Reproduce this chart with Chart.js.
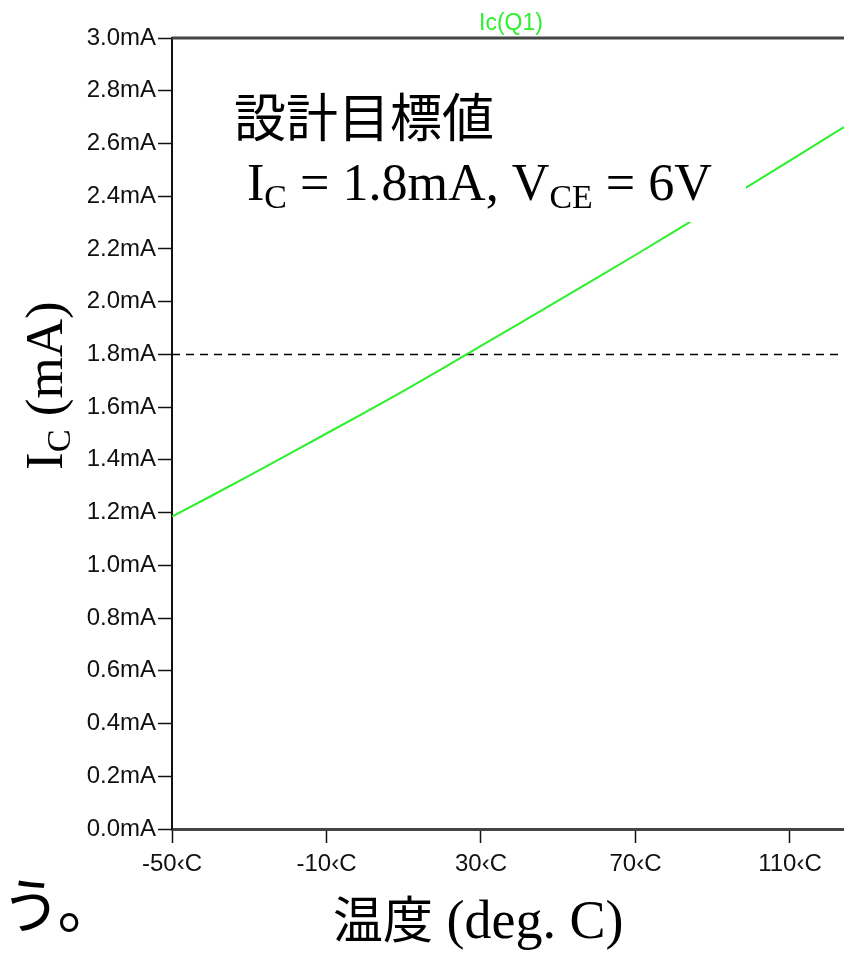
<!DOCTYPE html>
<html>
<head>
<meta charset="utf-8">
<script src="https://cdn.jsdelivr.net/npm/chart.js@4.4.1/dist/chart.umd.min.js"></script>
<style>
  html, body { margin: 0; padding: 0; background: #fff; }
  #wrap { width: 844px; height: 953px; position: relative; overflow: hidden; }
</style>
</head>
<body>
<div id="wrap"><canvas id="icChart" width="844" height="953"></canvas></div>
<script>
// Dados (temperatura em graus C, corrente em mA)
const temps = [-50, -40, -30, -20, -10, 0, 10, 20, 30, 40, 50, 60, 70, 80, 90, 100, 110, 120, 124];
const icValues = [1.185, 1.262, 1.340, 1.420, 1.500, 1.580, 1.662, 1.746, 1.832, 1.918, 2.004, 2.090, 2.177, 2.266, 2.355, 2.445, 2.535, 2.626, 2.662];
const xTicks = [-50, -10, 30, 70, 110];
const yTicks = [0, 0.2, 0.4, 0.6, 0.8, 1.0, 1.2, 1.4, 1.6, 1.8, 2.0, 2.2, 2.4, 2.6, 2.8, 3.0];
const targetIc = 1.8;
const xRange = [-50, 124];

const serif = '"Liberation Serif", "Times New Roman", serif';
const cjk = '"Noto Sans CJK JP", "Noto Sans", sans-serif';
const sans = '"Liberation Sans", Arial, sans-serif';

// Desenha texto com subscritos
function drawRich(ctx, parts, x, y, size, family) {
    let cx = x;
    parts.forEach(p => {
        const s = p.sub ? size * 0.65 : size;
        ctx.font = s + 'px ' + family;
        ctx.fillText(p.t, cx, p.sub ? y + size * 0.16 : y);
        cx += ctx.measureText(p.t).width;
    });
    return cx - x;
}

function richWidth(ctx, parts, size, family) {
    let w = 0;
    parts.forEach(p => {
        ctx.font = (p.sub ? size * 0.65 : size) + 'px ' + family;
        w += ctx.measureText(p.t).width;
    });
    return w;
}

const decorPlugin = {
    id: 'decor',
    afterDatasetsDraw(chart) {
        const ctx = chart.ctx;
        ctx.save();
        // caixa branca da anotação
        ctx.fillStyle = '#fff';
        ctx.fillRect(228, 84, 518, 138);
        ctx.fillStyle = '#000';
        ctx.textBaseline = 'alphabetic';
        ctx.font = '52px ' + cjk;
        ctx.fillText('設計目標値', 234, 137);
        const parts = [{t: 'I'}, {t: 'C', sub: true}, {t: ' = 1.8mA, V'}, {t: 'CE', sub: true}, {t: ' = 6V'}];
        const size = 52 * 465 / richWidth(ctx, parts, 52, serif);
        drawRich(ctx, parts, 247, 200, size, serif);
        ctx.restore();
    },
    afterDraw(chart) {
        const ctx = chart.ctx;
        const a = chart.chartArea;
        ctx.save();
        // borda superior
        ctx.strokeStyle = '#444';
        ctx.lineWidth = 3;
        ctx.beginPath();
        ctx.moveTo(a.left, a.top);
        ctx.lineTo(a.right, a.top);
        ctx.stroke();

        // título
        ctx.fillStyle = '#2ef02e';
        ctx.font = '23px ' + sans;
        ctx.textAlign = 'center';
        ctx.textBaseline = 'alphabetic';
        ctx.fillText('Ic(Q1)', 511, 30);

        // título do eixo x
        ctx.fillStyle = '#000';
        ctx.textAlign = 'left';
        ctx.font = '50px ' + cjk;
        ctx.fillText('温度', 333, 938);
        const w = ctx.measureText('温度').width;
        ctx.font = '54px ' + serif;
        ctx.fillText(' (deg. C)', 333 + w, 938);

        // título do eixo y
        ctx.save();
        ctx.translate(62, 470);
        ctx.rotate(-Math.PI / 2);
        drawRich(ctx, [{t: 'I'}, {t: 'C', sub: true}, {t: ' (mA)'}], 0, 0, 53, serif);
        ctx.restore();

        // texto cortado à esquerda
        ctx.font = '60px ' + cjk;
        ctx.fillText('う。', 1, 928);
        ctx.restore();
    }
};

function initChart() {
    const ctx = document.getElementById('icChart');
    new Chart(ctx, {
        type: 'line',
        data: {
            datasets: [{
                label: 'Ic(Q1)',
                data: temps.map((t, i) => ({x: t, y: icValues[i]})),
                borderColor: '#2bf02b',
                borderWidth: 2,
                pointRadius: 0,
                tension: 0
            }, {
                label: 'target',
                data: xRange.map(t => ({x: t, y: targetIc})),
                borderColor: '#000',
                borderWidth: 1.5,
                borderDash: [8, 6],
                pointRadius: 0
            }]
        },
        options: {
            responsive: false,
            animation: false,
            devicePixelRatio: 1,
            layout: { padding: { top: 38, right: 0, left: 0, bottom: 0 } },
            plugins: {
                legend: { display: false },
                title: { display: false },
                tooltip: { enabled: false }
            },
            scales: {
                x: {
                    type: 'linear',
                    min: xRange[0],
                    max: xRange[1],
                    afterBuildTicks: s => { s.ticks = xTicks.map(v => ({value: v})); },
                    afterFit: s => { s.height = 124; },
                    grid: {
                        drawOnChartArea: false,
                        drawTicks: true,
                        tickLength: 14,
                        tickColor: '#111',
                        tickWidth: 1.5
                    },
                    border: { display: true, color: '#444', width: 3 },
                    ticks: {
                        autoSkip: false,
                        maxRotation: 0,
                        padding: 7,
                        color: '#111',
                        font: { family: sans, size: 24 },
                        callback: v => v + '\u2039C'
                    }
                },
                y: {
                    min: 0,
                    max: 3,
                    afterBuildTicks: s => { s.ticks = yTicks.map(v => ({value: v})); },
                    afterFit: s => { s.width = 172; },
                    grid: {
                        drawOnChartArea: false,
                        drawTicks: true,
                        tickLength: 14,
                        tickColor: '#111',
                        tickWidth: 1.5
                    },
                    border: { display: true, color: '#111', width: 2 },
                    ticks: {
                        autoSkip: false,
                        padding: 2,
                        color: '#111',
                        font: { family: sans, size: 24 },
                        callback: v => v.toFixed(1) + 'mA'
                    }
                }
            }
        },
        plugins: [decorPlugin]
    });
}

document.addEventListener('DOMContentLoaded', initChart);
</script>
</body>
</html>
